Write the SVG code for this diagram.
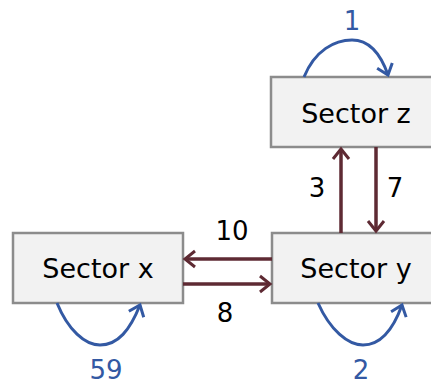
<svg xmlns="http://www.w3.org/2000/svg" width="431" height="385" viewBox="0 0 431 385">
<defs>
<marker id="ar" markerUnits="userSpaceOnUse" markerWidth="20" markerHeight="20" viewBox="-12 -10 14 20" refX="0" refY="0" orient="auto">
<polyline points="-10,-8 0,0 -10,8" fill="none" stroke="#5e2a33" stroke-width="3" stroke-linejoin="miter"/>
</marker>
<marker id="ab" markerUnits="userSpaceOnUse" markerWidth="20" markerHeight="20" viewBox="-12 -10 14 20" refX="0" refY="0" orient="auto">
<polyline points="-10,-8 0,0 -10,8" fill="none" stroke="#3359a3" stroke-width="3"/>
</marker>
</defs>
<style>
.box{fill:#f2f2f2;stroke:#8c8c8c;stroke-width:2.5}
.lbl{font-family:"DejaVu Sans",Verdana,sans-serif;font-size:27px;fill:#000;text-anchor:middle}
.num{font-family:"DejaVu Sans",Verdana,sans-serif;font-size:26px;fill:#000;text-anchor:middle}
.blue{fill:#3359a3}
.c{fill:none;stroke:#5e2a33;stroke-width:3.5;marker-end:url(#ar)}
.l{fill:none;stroke:#3359a3;stroke-width:3;marker-end:url(#ab)}
</style>
<g id="sector-z"><rect class="box" x="271" y="77" width="170" height="70"/><text class="lbl" x="356" y="123">Sector z</text></g>
<g id="sector-x"><rect class="box" x="13" y="233" width="170" height="70"/><text class="lbl" x="98" y="278">Sector x</text></g>
<g id="sector-y"><rect class="box" x="272" y="233" width="170" height="70"/><text class="lbl" x="356" y="278">Sector y</text></g>
<g id="connectors">
<path class="c" d="M341 233 V149"/>
<path class="c" d="M376 147 V231"/>
<path class="c" d="M272 259 H185"/>
<path class="c" d="M183 284 H270"/>
<path class="l" d="M304 77 C315 50 335 40 352 40 C368 40 380 52 388 75"/>
<path class="l" d="M57 303 C68 330 85 345 100 345 C118 345 130 330 140 305"/>
<path class="l" d="M318 303 C330 330 348 345 363 345 C380 345 393 330 402 305"/>
<text class="num" x="317" y="197">3</text>
<text class="num" x="395" y="197">7</text>
<text class="num" x="232" y="240">10</text>
<text class="num" x="225" y="322">8</text>
<text class="num blue" x="352" y="30">1</text>
<text class="num blue" x="106" y="379">59</text>
<text class="num blue" x="361" y="379">2</text>
</g>
</svg>
